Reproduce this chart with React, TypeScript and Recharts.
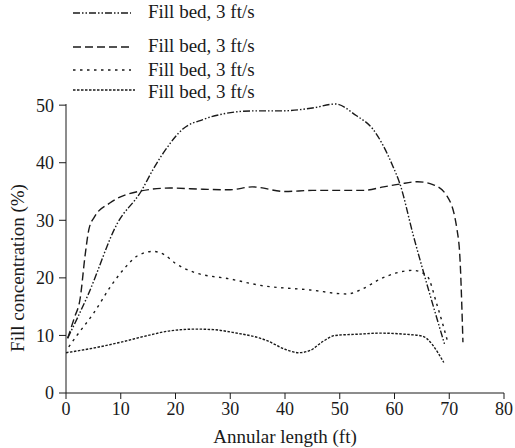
import { LineChart, Line, XAxis, YAxis } from "recharts";

type Pt = { x: number; y: number };

// Dash-dot-dot curve
const bedA: Pt[] = [
  { x: 0.3, y: 9.5 }, { x: 4, y: 17 }, { x: 9.4, y: 29.5 }, { x: 13.7, y: 35 },
  { x: 16, y: 39 }, { x: 18, y: 42 }, { x: 21.4, y: 45.9 }, { x: 25, y: 47.5 },
  { x: 29.4, y: 48.6 }, { x: 34.2, y: 49 }, { x: 39, y: 49 }, { x: 45, y: 49.5 },
  { x: 49.2, y: 50.2 }, { x: 53, y: 48.2 }, { x: 56, y: 45.9 }, { x: 59.7, y: 39.4 },
  { x: 61, y: 36.3 }, { x: 63.4, y: 27.5 }, { x: 66.5, y: 17 }, { x: 69.2, y: 8.3 },
];
// Long dashes
const bedB: Pt[] = [
  { x: 0.3, y: 9.5 }, { x: 1.5, y: 13 }, { x: 2.6, y: 16.5 }, { x: 3.5, y: 24 },
  { x: 4.2, y: 28.5 }, { x: 5.2, y: 30.6 }, { x: 8, y: 33 }, { x: 13.7, y: 35.1 },
  { x: 19, y: 35.6 }, { x: 25, y: 35.4 }, { x: 30, y: 35.3 }, { x: 34, y: 35.8 },
  { x: 40, y: 35 }, { x: 45, y: 35.2 }, { x: 50, y: 35.2 }, { x: 54.3, y: 35.2 },
  { x: 58, y: 35.8 }, { x: 61, y: 36.3 }, { x: 64.2, y: 36.7 }, { x: 67, y: 36.2 },
  { x: 69.6, y: 34.2 }, { x: 71.4, y: 28.5 }, { x: 72, y: 22.6 }, { x: 72.3, y: 15 },
  { x: 72.5, y: 8.8 },
];
// Short dots
const bedC: Pt[] = [
  { x: 0.5, y: 8 }, { x: 2, y: 10 }, { x: 5, y: 13.8 }, { x: 8.5, y: 19 },
  { x: 11, y: 22 }, { x: 13, y: 23.8 }, { x: 15.9, y: 24.6 }, { x: 18, y: 24 },
  { x: 20, y: 22.5 }, { x: 23.3, y: 21 }, { x: 30, y: 19.8 }, { x: 35.5, y: 18.7 },
  { x: 44.6, y: 17.9 }, { x: 51.3, y: 17.2 }, { x: 54, y: 18 }, { x: 57.4, y: 19.8 },
  { x: 63.4, y: 21.3 }, { x: 65.9, y: 20.4 }, { x: 67.8, y: 15.2 }, { x: 69.8, y: 8.6 },
];
// Fine dots
const bedD: Pt[] = [
  { x: 0, y: 7 }, { x: 5, y: 7.8 }, { x: 9.9, y: 8.8 }, { x: 15, y: 10 },
  { x: 19, y: 10.8 }, { x: 23.9, y: 11.1 }, { x: 27, y: 11 }, { x: 30.6, y: 10.5 },
  { x: 36.7, y: 9.1 }, { x: 40, y: 7.6 }, { x: 42.5, y: 7 }, { x: 44.6, y: 7.4 },
  { x: 47, y: 9 }, { x: 49.2, y: 10 }, { x: 53, y: 10.2 }, { x: 57.4, y: 10.4 },
  { x: 62, y: 10.2 }, { x: 65, y: 9.9 }, { x: 69, y: 5.3 },
];

const xTicks = [0, 10, 20, 30, 40, 50, 60, 70, 80];
const yTicks = [0, 10, 20, 30, 40, 50];
const seriesNames = ["Fill bed, 3 ft/s", "Fill bed, 3 ft/s", "Fill bed, 3 ft/s", "Fill bed, 3 ft/s"];

const FONT = '"Liberation Serif", "Times New Roman", serif';
const INK = "#1a1a1a";
const dashes = ["7 2 1.5 2 1.5 2", "8 4", "2.5 4.5", "2.5 1.5"];
const sampleY = [13, 47, 70, 90];
const labelY = [12, 46, 70, 92];

function FillLegend() {
  return (
    <div style={{ position: "absolute", left: 0, top: 0, width: 515, height: 100, pointerEvents: "none" }}>
      {seriesNames.map((name, i) => (
        <div key={i}>
          <svg
            width={62}
            height={6}
            style={{ position: "absolute", left: 73, top: sampleY[i] - 3 }}
          >
            <line x1={0} y1={3} x2={i === 3 ? 62 : 58} y2={3} stroke={INK} strokeWidth={1.4} strokeDasharray={dashes[i]} />
          </svg>
          <span
            style={{
              position: "absolute",
              left: 148,
              top: labelY[i] - 11,
              fontFamily: FONT,
              fontSize: 19,
              lineHeight: "22px",
              color: INK,
              whiteSpace: "nowrap",
            }}
          >
            {name}
          </span>
        </div>
      ))}
    </div>
  );
}

export default function App() {
  const series = [bedA, bedB, bedC, bedD];
  return (
    <div style={{ position: "absolute", left: 0, top: 0, width: 515, height: 448, background: "#fff" }}>
      <LineChart width={515} height={448} margin={{ top: 104, right: 11, bottom: 0, left: 0 }}>
        <XAxis
          type="number"
          dataKey="x"
          domain={[0, 80]}
          ticks={xTicks}
          allowDataOverflow
          height={55}
          tickSize={6}
          tickMargin={3}
          stroke={INK}
          tick={{ fill: INK, fontSize: 18, fontFamily: FONT }}
          label={{
            content: () => (
              <text x={285} y={443} textAnchor="middle" fill={INK} fontSize={19} fontFamily={FONT}>
                Annular length (ft)
              </text>
            ),
          }}
        />
        <YAxis
          type="number"
          domain={[0, 50]}
          ticks={yTicks}
          width={66}
          tickSize={7}
          tickMargin={5}
          stroke={INK}
          tick={{ fill: INK, fontSize: 18, fontFamily: FONT }}
          label={{
            content: () => (
              <text
                x={24}
                y={268}
                transform="rotate(-90 24 268)"
                textAnchor="middle"
                fill={INK}
                fontSize={19}
                fontFamily={FONT}
              >
                Fill concentration (%)
              </text>
            ),
          }}
        />
        {series.map((d, i) => (
          <Line
            key={i}
            data={d}
            dataKey="y"
            name={seriesNames[i]}
            type="monotone"
            stroke={INK}
            strokeWidth={1.4}
            strokeDasharray={dashes[i]}
            dot={false}
            activeDot={false}
            isAnimationActive={false}
          />
        ))}
      </LineChart>
      <FillLegend />
    </div>
  );
}
